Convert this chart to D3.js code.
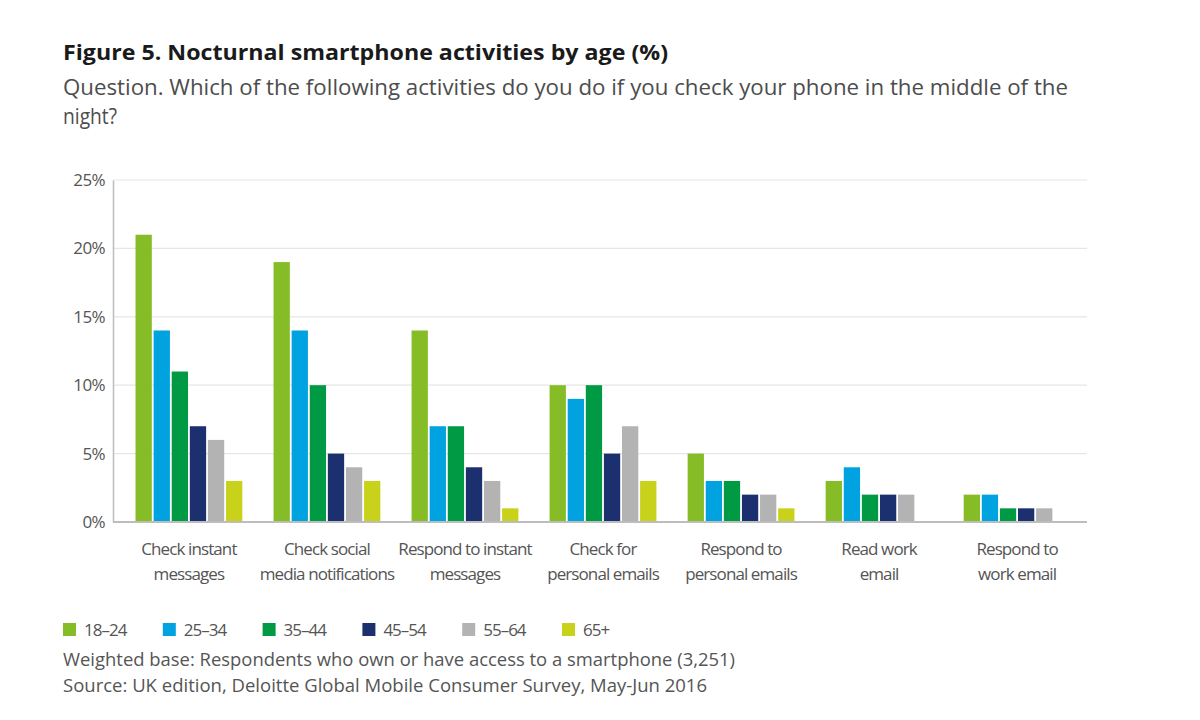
<!DOCTYPE html>
<html>
<head>
<meta charset="utf-8">
<script src="https://cdn.jsdelivr.net/npm/d3@7/dist/d3.min.js"></script>
<style>
  html, body { margin: 0; padding: 0; background: #ffffff; }
  svg { display: block; font-family: "Open Sans", "Noto Sans", sans-serif; }
</style>
</head>
<body>
<svg id="chart" width="1200" height="720"></svg>
<script>
const categories = [
  ["Check instant", "messages"],
  ["Check social", "media notifications"],
  ["Respond to instant", "messages"],
  ["Check for", "personal emails"],
  ["Respond to", "personal emails"],
  ["Read work", "email"],
  ["Respond to", "work email"]
];
const ages = ["18-24", "25-34", "35-44", "45-54", "55-64", "65+"];
const ageLabels = ["18–24", "25–34", "35–44", "45–54", "55–64", "65+"];
const v18_24 = [21, 19, 14, 10, 5, 3, 2];
const v25_34 = [14, 14, 7, 9, 3, 4, 2];
const v35_44 = [11, 10, 7, 10, 3, 2, 1];
const v45_54 = [7, 5, 4, 5, 2, 2, 1];
const v55_64 = [6, 4, 3, 7, 2, 2, 1];
const v65plus = [3, 3, 1, 3, 1, 0, 0];
const yTicks = [0, 5, 10, 15, 20, 25];
const colors = ["#86bc25", "#00a3e0", "#009a44", "#1c2f6e", "#b3b3b3", "#c8d21a"];

const seriesValues = [v18_24, v25_34, v35_44, v45_54, v55_64, v65plus];
const catKeys = categories.map(c => c.join(" "));

const svg = d3.select("#chart");
const plotLeft = 113, plotRight = 1087, plotTop = 180, plotBottom = 522;

const y = d3.scaleLinear().domain([0, 25]).range([plotBottom, plotTop]);
const x0 = d3.scaleBand().domain(catKeys).range([plotLeft, 1093]).paddingInner(0.2).paddingOuter(0.15);
const x1 = d3.scaleBand().domain(ages).range([0, x0.bandwidth()]).padding(0.1);
const color = d3.scaleOrdinal().domain(ages).range(colors);

// Title
svg.append("text").attr("x", 63).attr("y", 60)
  .attr("font-size", 22).attr("font-weight", 700).attr("fill", "#1a1a1a")
  .attr("textLength", 605).attr("lengthAdjust", "spacingAndGlyphs")
  .text("Figure 5. Nocturnal smartphone activities by age (%)");
svg.append("text").attr("x", 63).attr("y", 95)
  .attr("font-size", 21).attr("fill", "#4d4d4d")
  .attr("textLength", 1005).attr("lengthAdjust", "spacingAndGlyphs")
  .text("Question. Which of the following activities do you do if you check your phone in the middle of the");
svg.append("text").attr("x", 63).attr("y", 124)
  .attr("font-size", 21).attr("fill", "#4d4d4d")
  .attr("textLength", 54).attr("lengthAdjust", "spacingAndGlyphs")
  .text("night?");

// Gridlines
svg.append("g").selectAll("line").data(yTicks.filter(d => d > 0)).join("line")
  .attr("x1", plotLeft).attr("x2", plotRight)
  .attr("y1", d => y(d)).attr("y2", d => y(d))
  .attr("stroke", "#e6e6e6").attr("stroke-width", 1.2);

// Y axis
const yAxis = d3.axisLeft(y).tickValues(yTicks).tickFormat(d => d + "%").tickSize(0).tickPadding(8);
const gy = svg.append("g").attr("transform", `translate(${plotLeft},0)`).call(yAxis);
gy.select(".domain").attr("stroke", "#bdbdbd").attr("stroke-width", 1.5);
gy.selectAll("text").attr("font-size", 17).attr("fill", "#555").attr("letter-spacing", "-0.6")
  .attr("font-family", "'Open Sans', sans-serif");

// Bars
const groups = svg.append("g").selectAll("g").data(catKeys).join("g")
  .attr("transform", d => `translate(${x0(d)},0)`);
groups.selectAll("rect").data((d, i) => ages.map((a, j) => ({ age: a, value: seriesValues[j][i] })))
  .join("rect")
  .attr("x", d => x1(d.age))
  .attr("width", x1.bandwidth())
  .attr("y", d => y(d.value))
  .attr("height", d => y(0) - y(d.value))
  .attr("fill", d => color(d.age));

// Baseline
svg.append("line").attr("x1", plotLeft).attr("x2", plotRight)
  .attr("y1", y(0)).attr("y2", y(0)).attr("stroke", "#bdbdbd").attr("stroke-width", 2);

// X axis labels
const xl = svg.append("g").selectAll("text").data(categories).join("text")
  .attr("x", (d, i) => x0(catKeys[i]) + x0.bandwidth() / 2)
  .attr("y", 555)
  .attr("text-anchor", "middle").attr("font-size", 17).attr("fill", "#555")
  .attr("letter-spacing", "-0.9");
xl.each(function(d) {
  const t = d3.select(this);
  d.forEach((line, k) => {
    t.append("tspan").attr("x", t.attr("x")).attr("dy", k === 0 ? 0 : 25).text(line);
  });
});

// Legend
const legend = svg.append("g").selectAll("g").data(ages).join("g")
  .attr("transform", (d, i) => `translate(${63 + i * 99.8},623)`);
legend.append("rect").attr("width", 13).attr("height", 13).attr("fill", d => color(d));
legend.append("text").attr("x", 21).attr("y", 12.5).attr("font-size", 17).attr("fill", "#555")
  .attr("letter-spacing", "-1")
  .text((d, i) => ageLabels[i]);

// Footnotes
svg.append("text").attr("x", 63).attr("y", 666).attr("font-size", 18).attr("fill", "#555")
  .attr("textLength", 672).attr("lengthAdjust", "spacingAndGlyphs")
  .text("Weighted base: Respondents who own or have access to a smartphone (3,251)");
svg.append("text").attr("x", 63).attr("y", 692).attr("font-size", 18).attr("fill", "#555")
  .attr("textLength", 644).attr("lengthAdjust", "spacingAndGlyphs")
  .text("Source: UK edition, Deloitte Global Mobile Consumer Survey, May-Jun 2016");
</script>
</body>
</html>
